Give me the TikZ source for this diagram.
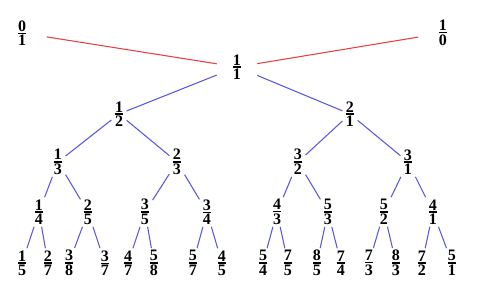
\documentclass[tikz,border=0pt]{standalone}
\usepackage{amsmath}
\usepackage{fontspec}
\setmainfont{Liberation Serif}
\usetikzlibrary{positioning}
\definecolor{redline}{RGB}{232,64,64}
\definecolor{blueline}{RGB}{88,88,226}
\newcommand{\fr}[2]{\vbox{\halign{\hfil##\hfil\cr\textbf{#1}\cr
  \noalign{\kern1pt\hrule height0.9pt\kern1pt}\textbf{#2}\cr}}}

\begin{document}
\begin{tikzpicture}[
  x=0.75pt, y=-0.75pt,
  every node/.style={font=\fontsize{12}{13}\selectfont},
  fr/.style={inner xsep=2.5pt, inner ysep=1.5pt},
  root/.style={inner xsep=12pt, inner ysep=1.5pt},
  redge/.style={draw=redline, line width=0.8pt},
  bedge/.style={draw=blueline, line width=0.8pt}
]
\useasboundingbox (0,0) rectangle (480,296);
% Stern-Brocot tree, all nodes
\node[root] (f11) at (237,67) {\fr{1}{1}};
\foreach \p/\q/\x/\y in {0/1/22/33, 1/0/443/33,
  1/2/119/114, 2/1/350/114,
  1/3/58/162, 2/3/177/162, 3/2/298/162, 3/1/408/162,
  1/4/39/212, 2/5/88/212, 3/5/145/212, 3/4/207/212,
  4/3/277/212, 5/3/328/212, 5/2/384/212, 4/1/433/212,
  1/5/22/263, 2/7/48/263, 3/8/69/263, 3/7/105/263,
  4/7/128/263, 5/8/154/263, 5/7/193/263, 4/5/222/263,
  5/4/263/263, 7/5/288/263, 8/5/317/263, 7/4/341/263,
  7/3/369/263, 8/3/396/263, 7/2/422/263, 5/1/452/263}
  \node[fr] (f\p\q) at (\x,\y) {\fr{\p}{\q}};
% the two red edges
\draw[redge, shorten <=13pt] (f01) -- (f11);
\draw[redge, shorten <=13pt] (f10) -- (f11);
% blue edges, parent/child
\foreach \a/\b in {11/12, 11/21, 12/13, 12/23, 21/32, 21/31,
  13/14, 13/25, 23/35, 23/34, 32/43, 32/53, 31/52, 31/41,
  14/15, 14/27, 25/38, 25/37, 35/47, 35/58, 34/57, 34/45,
  43/54, 43/75, 53/85, 53/74, 52/73, 52/83, 41/72, 41/51}
  \draw[bedge] (f\a) -- (f\b);
\end{tikzpicture}
\end{document}
